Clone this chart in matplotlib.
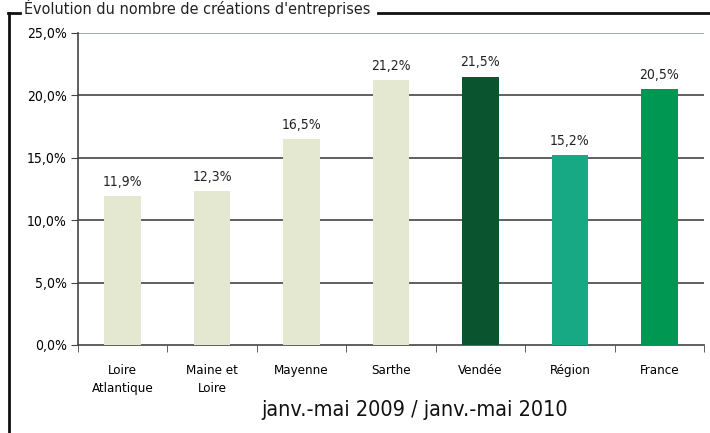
import matplotlib.pyplot as plt
from matplotlib.lines import Line2D

categories = ['Loire\nAtlantique', 'Maine et\nLoire', 'Mayenne', 'Sarthe', 'Vendée', 'Région', 'France']
values = [11.9, 12.3, 16.5, 21.2, 21.5, 15.2, 20.5]
colors = ['#e5e8d0', '#e5e8d0', '#e5e8d0', '#e5e8d0', '#0a5530', '#17a884', '#009753']
yticks = [0, 5, 10, 15, 20, 25]

plt.rcParams['font.family'] = ['DejaVu Sans']
plt.rcParams['font.stretch'] = 'condensed'

W, H = 710, 433
fig = plt.figure(figsize=(W / 100, H / 100), dpi=100)
ax = fig.add_axes([78 / W, 1 - 345 / H, (704 - 78) / W, (345 - 33) / H])

x = list(range(len(categories)))
bars = ax.bar(x, values, width=0.41, color=colors, zorder=3)
for xi, v in zip(x, values):
    ax.text(xi, v + 0.6, f'{v:.1f}%'.replace('.', ','), ha='center', va='bottom',
            fontsize=10, color='#222222')

ax.set_xlim(-0.5, len(categories) - 0.5)
ax.set_ylim(0, 25)
ax.set_yticks(yticks)
ax.set_yticklabels([f'{t:.1f}%'.replace('.', ',') for t in yticks], fontsize=10)
for t in yticks[1:]:
    ax.axhline(t, color='#8f9ba0' if t == 25 else '#444444', lw=1.2, zorder=1)

ax.set_xticks(x)
ax.set_xticklabels(categories, fontsize=9.5, va='top', linespacing=1.5)
ax.set_xticks([i - 0.5 for i in range(len(categories) + 1)], minor=True)
ax.tick_params(axis='x', which='major', length=0, pad=14)
ax.tick_params(axis='x', which='minor', length=5, direction='out', color='#444444')
ax.tick_params(axis='y', length=5, direction='out', color='#444444', pad=3)

for s in ['top', 'right']:
    ax.spines[s].set_visible(False)
for s in ['left', 'bottom']:
    ax.spines[s].set_color('#444444')
    ax.spines[s].set_linewidth(1.2)

fig.text(415 / W, 1 - 410 / H, 'janv.-mai 2009 / janv.-mai 2010', ha='center', va='center',
         fontsize=15.5, color='#111111')

# frame and title
fig.text(24 / W, 1 - 8 / H, "Évolution du nombre de créations d'entreprises", ha='left',
         va='center', fontsize=11.6, color='#222222')
fig.add_artist(Line2D([9 / W, 9 / W], [0, 1 - 13 / H], color='#111111', lw=2))
fig.add_artist(Line2D([8 / W, 20 / W], [1 - 13 / H, 1 - 13 / H], color='#111111', lw=2))
fig.add_artist(Line2D([378 / W, 1], [1 - 13 / H, 1 - 13 / H], color='#111111', lw=2))

fig.savefig('out.png', dpi=100)
